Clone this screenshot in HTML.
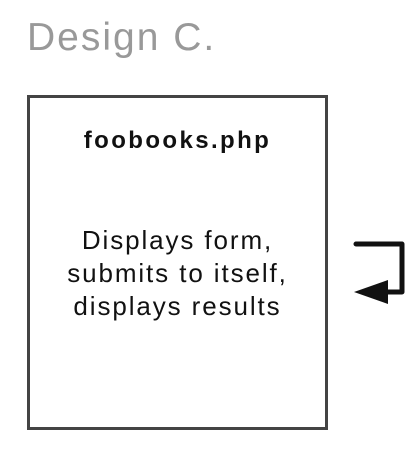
<!DOCTYPE html>
<html><head><style>
body{margin:0;width:420px;height:449px;background:#fff;position:relative;font-family:"Liberation Sans",sans-serif;overflow:hidden}
.t{position:absolute;left:27px;top:16px;font-size:39px;color:#999;line-height:44px;letter-spacing:2px}
.box{position:absolute;left:27px;top:95px;width:295px;height:329px;border:3px solid #444}
.h{position:absolute;left:27px;width:301px;text-align:center;font-weight:bold;font-size:24px;color:#111;top:127px;letter-spacing:2.4px}
.b{position:absolute;left:27px;width:301px;text-align:center;font-size:26px;color:#111;top:224px;line-height:33px;letter-spacing:1.9px}
</style></head><body>
<div class="t">Design C.</div>
<div class="box"></div>
<div class="h">foobooks.php</div>
<div class="b">Displays form,<br>submits to itself,<br>displays results</div>
<svg style="position:absolute;left:0;top:0" width="420" height="449">
<path d="M356 244 H402 V292 H385" fill="none" stroke="#111" stroke-width="5" stroke-linejoin="round" stroke-linecap="round"/>
<polygon points="354,292 388,280 388,304" fill="#111"/>
</svg>
</body></html>
